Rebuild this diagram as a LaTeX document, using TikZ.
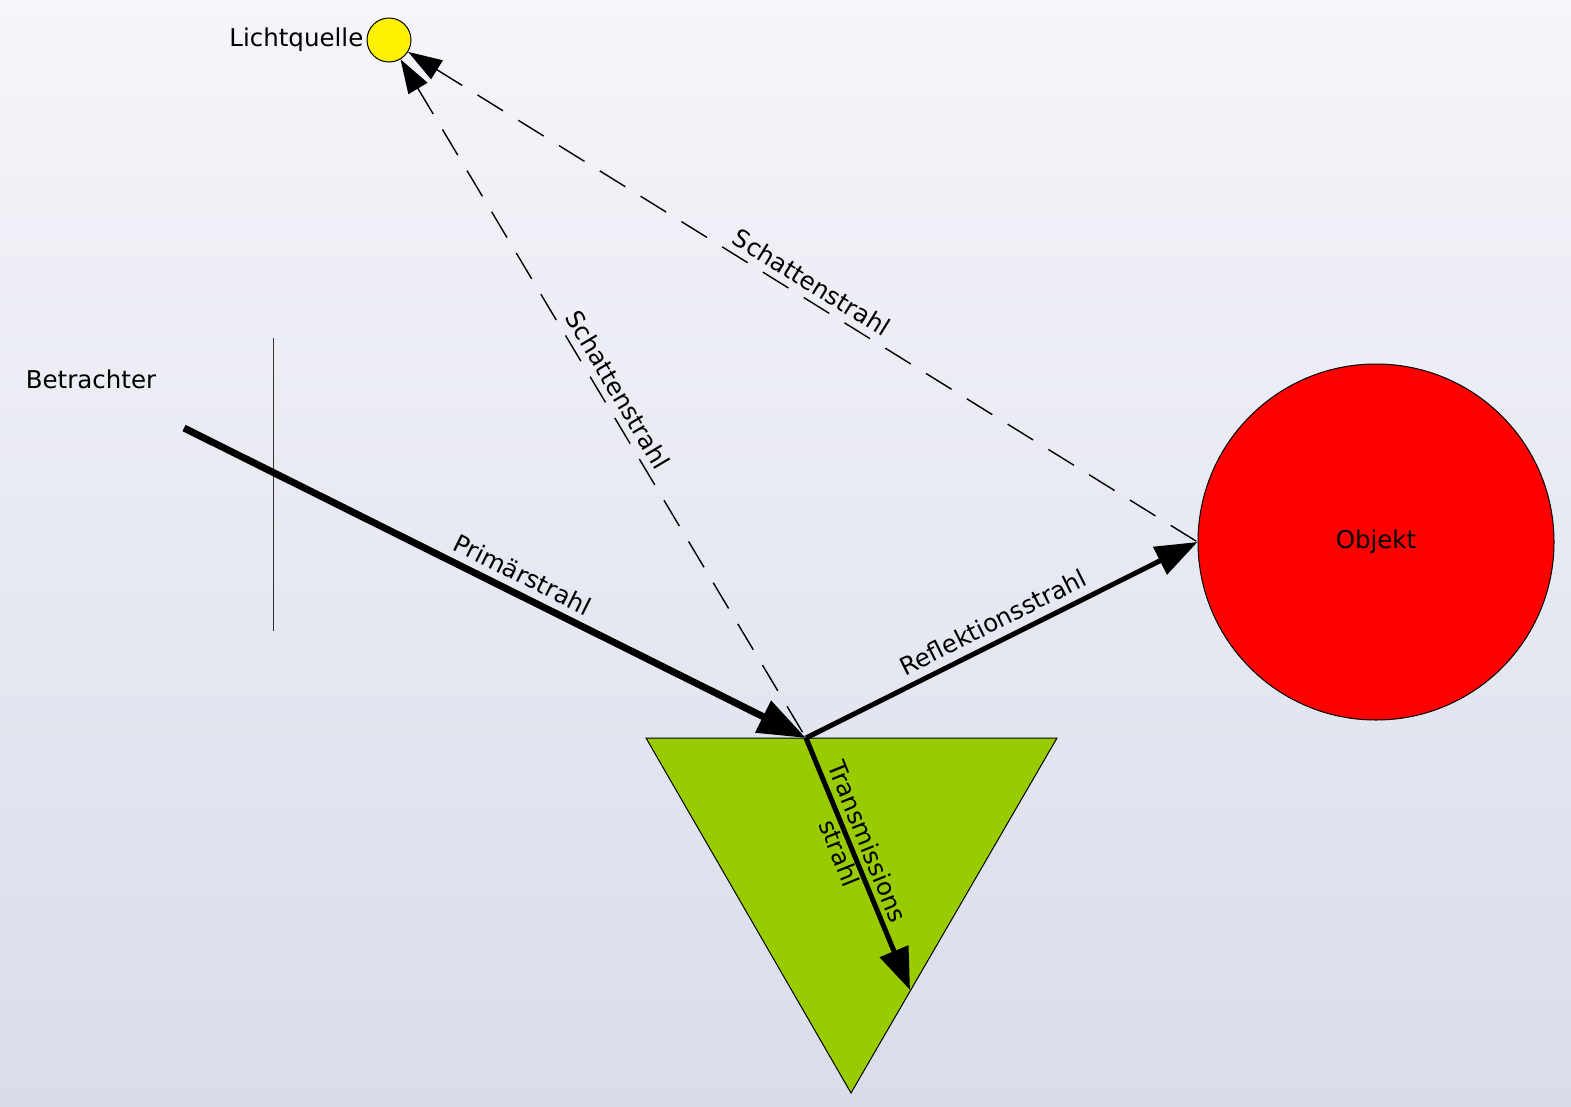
\documentclass[tikz,border=0pt]{standalone}
\usepackage{fontspec}
\setmainfont{DejaVu Sans}
\usetikzlibrary{arrows.meta,shapes.geometric}
\definecolor{bgtop}{HTML}{F5F5FA}
\definecolor{bgbot}{HTML}{D9DDEA}
\definecolor{prismgreen}{HTML}{99CC00}
\tikzset{
  lbl/.style={font=\fontsize{24.5}{29}\selectfont, inner sep=2pt},
  thickray/.style={line width=7pt, -{Triangle[length=48pt,width=34pt]}},
  medray/.style={line width=5pt, -{Triangle[length=42pt,width=30pt]}},
  shadowray/.style={line width=1.4pt, dash pattern=on 30pt off 18pt, {Triangle[length=34pt,width=22pt]}-},
}
\begin{document}
\begin{tikzpicture}[x=1pt,y=-1pt]
\shade[top color=bgtop, bottom color=bgbot] (0,0) rectangle (1571,1106);
\useasboundingbox (0,0) rectangle (1571,1106);
% prism
\coordinate (tA) at (646,738);
\coordinate (tB) at (1057,738);
\coordinate (tC) at (851,1093);
\draw[fill=prismgreen, line width=1pt] (tA) -- (tB) -- (tC) -- cycle;
% light source
\node[circle, draw, line width=1pt, fill=yellow, minimum size=44pt, inner sep=0pt] (lq) at (389,40) {};
\node[lbl, anchor=east] (lqlabel) at ([xshift=-1pt]lq.west) {Lichtquelle};
% object
\node[circle, draw, line width=1pt, fill=red, minimum size=356pt, inner sep=0pt, lbl] (obj) at (1376,542) {Objekt};
% viewer
\node[lbl] (betr) at (91,379) {Betrachter};
\coordinate (scrTop) at (273,338);
\coordinate (scrBot) at (273,631);
\draw[line width=1pt, black!80] (scrTop) -- (scrBot);
% rays
\coordinate (eye) at (184,428);
\coordinate (hit) at (806,738);
\coordinate (objhit) at (obj.west);
\coordinate (trend) at (910,990);
\draw[shadowray] (lq) -- node[lbl, sloped, above=5pt, pos=0.5] {Schattenstrahl} (hit);
\draw[shadowray] (lq) -- node[lbl, sloped, above=5pt, pos=0.5] {Schattenstrahl} (objhit);
\draw[thickray] (eye) -- node[lbl, sloped, above=5pt, pos=0.53] {Primärstrahl} (hit);
\draw[medray] (hit) -- node[lbl, sloped, above=6pt, pos=0.5] {Reflektionsstrahl} (objhit);
\draw[medray] (hit) -- coordinate[pos=0.43] (trmid) (trend);
\node[lbl, rotate=-68, align=center, font=\fontsize{24.5}{30}\selectfont] (trlabel) at ([shift={(3,1)}]trmid) {Transmissions\\strahl};
\end{tikzpicture}
\end{document}
